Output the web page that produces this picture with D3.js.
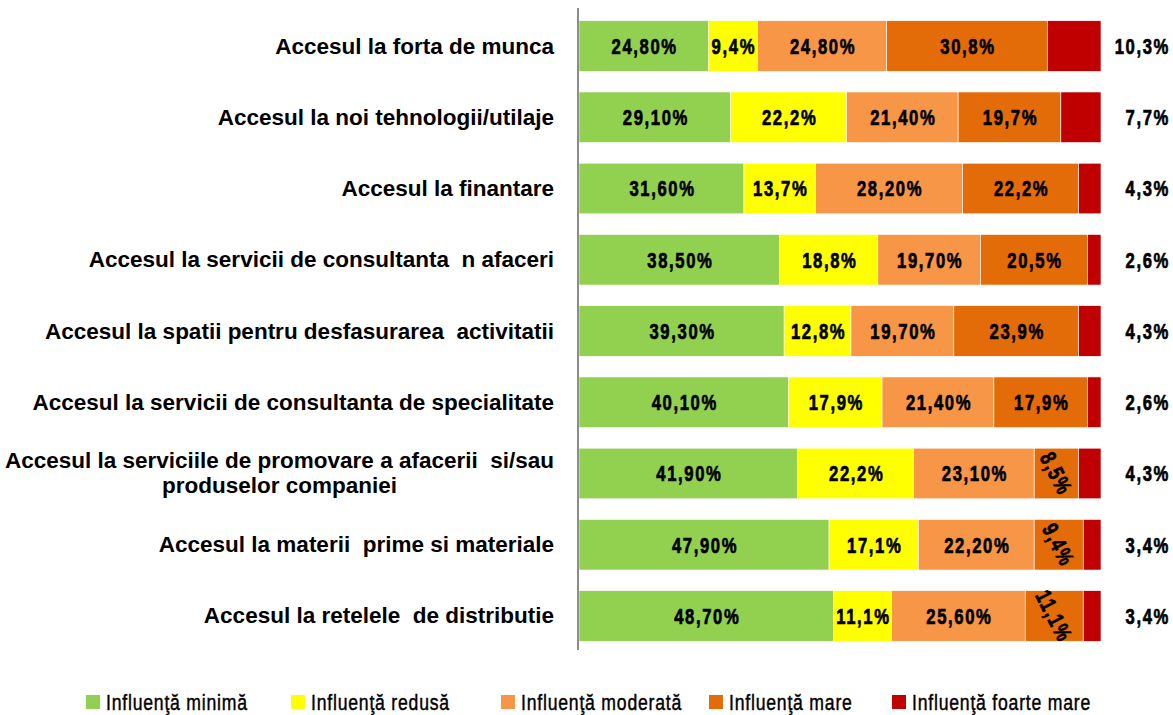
<!DOCTYPE html>
<html>
<head>
<meta charset="utf-8">
<script src="https://cdn.jsdelivr.net/npm/d3@7"></script>
<style>
  body { margin: 0; background: #fff; }
  text { white-space: pre; }
</style>
</head>
<body>
<svg id="chart" width="1173" height="715"></svg>
<script>
const categories = [
  "Accesul la forta de munca",
  "Accesul la noi tehnologii/utilaje",
  "Accesul la finantare",
  "Accesul la servicii de consultanta  n afaceri",
  "Accesul la spatii pentru desfasurarea  activitatii",
  "Accesul la servicii de consultanta de specialitate",
  "Accesul la serviciile de promovare a afacerii  si/sau produselor companiei",
  "Accesul la materii  prime si materiale",
  "Accesul la retelele  de distributie"
];
const seriesNames = ["Influenţă minimă", "Influenţă redusă", "Influenţă moderată", "Influenţă mare", "Influenţă foarte mare"];
const minima   = [24.8, 29.1, 31.6, 38.5, 39.3, 40.1, 41.9, 47.9, 48.7];
const redusa   = [9.4, 22.2, 13.7, 18.8, 12.8, 17.9, 22.2, 17.1, 11.1];
const moderata = [24.8, 21.4, 28.2, 19.7, 19.7, 21.4, 23.1, 22.2, 25.6];
const mare     = [30.8, 19.7, 22.2, 20.5, 23.9, 17.9, 8.5, 9.4, 11.1];
const foarte   = [10.3, 7.7, 4.3, 2.6, 4.3, 2.6, 4.3, 3.4, 3.4];
const decimals = [2, 1, 2, 1, 1];
const colors = ["#92D050", "#FFFF00", "#F79646", "#E36C09", "#C00000"];

const seriesValues = [minima, redusa, moderata, mare, foarte];
const rows = categories.map((c, i) => {
  const r = { cat: c };
  seriesNames.forEach((s, j) => r[s] = seriesValues[j][i]);
  return r;
});

const svg = d3.select("#chart");
const x = d3.scaleLinear().domain([0, 1]).range([579, 1101]);
const y = d3.scaleBand().domain(categories).range([10.4, 651.6]).paddingInner(0.29).paddingOuter(0.145);

const stack = d3.stack().keys(seriesNames).offset(d3.stackOffsetExpand);
const stacked = stack(rows);

const fmt = (v, d) => v.toFixed(d).replace(".", ",") + "%";
const valueFont = "'Liberation Sans', Arial, sans-serif";
const squeeze = "scale(0.74,1)";

const layers = svg.append("g").selectAll("g")
  .data(stacked)
  .enter().append("g")
  .attr("fill", (d, i) => colors[i]);

layers.selectAll("rect")
  .data(d => d)
  .enter().append("rect")
  .attr("x", d => x(d[0]))
  .attr("width", d => x(d[1]) - x(d[0]))
  .attr("y", d => y(d.data.cat))
  .attr("height", y.bandwidth())
  .attr("stroke", "#fff")
  .attr("stroke-width", 0.6);

// value labels
stacked.forEach((layer, si) => {
  const g = svg.append("g")
    .attr("font-family", valueFont)
    .attr("font-weight", "bold")
    .attr("font-size", 22.5)
    .attr("letter-spacing", 2.2)
    .attr("fill", "#000")
    .attr("stroke", "#000")
    .attr("stroke-width", 0.7);
  g.selectAll("text")
    .data(layer)
    .enter().append("text")
    .attr("text-anchor", si === 4 ? "end" : "middle")
    .attr("dominant-baseline", "central")
    .attr("transform", d => {
      const cy = y(d.data.cat) + y.bandwidth() / 2;
      if (si === 4) return `translate(1170,${cy}) ${squeeze}`;
      const cx = (x(d[0]) + x(d[1])) / 2;
      const v = d.data[seriesNames[si]];
      if (si === 3 && v < 12) return `translate(${cx},${cy}) rotate(63) ${squeeze}`;
      return `translate(${cx + 1},${cy}) ${squeeze}`;
    })
    .text(d => fmt(d.data[seriesNames[si]], decimals[si]));
});

// axis line
svg.append("line")
  .attr("x1", 578).attr("x2", 578)
  .attr("y1", 8).attr("y2", 650)
  .attr("stroke", "#8c8c8c")
  .attr("stroke-width", 2);

// category labels
const labelG = svg.append("g")
  .attr("font-family", "'Liberation Sans', Arial, sans-serif")
  .attr("font-weight", "bold")
  .attr("font-size", 22.5)
  .attr("fill", "#000");

const labelRight = 554;
categories.forEach(c => {
  const cy = y(c) + y.bandwidth() / 2;
  const t = labelG.append("text")
    .attr("x", labelRight).attr("y", cy)
    .attr("text-anchor", "end")
    .attr("dominant-baseline", "central")
    .text(c);
  if (t.node().getComputedTextLength() > 560) {
    t.remove();
    // wrap into two lines, centered on the block
    const words = c.split(" ");
    let line1 = "", lines = [];
    const probe = labelG.append("text");
    for (let k = 0; k < words.length; k++) {
      const test = line1 === "" ? words[k] : line1 + " " + words[k];
      probe.text(test);
      if (probe.node().getComputedTextLength() > 552) {
        lines.push(line1.replace(/\s+$/, ""));
        lines.push(words.slice(k).join(" "));
        break;
      }
      line1 = test;
    }
    const widths = lines.map(l => { probe.text(l); return probe.node().getComputedTextLength(); });
    probe.remove();
    const maxW = d3.max(widths);
    const cx = labelRight - maxW / 2;
    lines.forEach((l, k) => {
      labelG.append("text")
        .attr("x", cx)
        .attr("y", cy + (k - (lines.length - 1) / 2) * 25)
        .attr("text-anchor", "middle")
        .attr("dominant-baseline", "central")
        .text(l);
    });
  }
});

// legend
const legendX = [86, 291, 501, 709, 892];
const legend = svg.append("g")
  .attr("font-family", valueFont)
  .attr("font-size", 22)
  .attr("letter-spacing", 1)
  .attr("fill", "#000")
  .attr("stroke", "#000")
  .attr("stroke-width", 0.45);
seriesNames.forEach((s, i) => {
  legend.append("rect")
    .attr("x", legendX[i]).attr("y", 695)
    .attr("width", 14).attr("height", 14)
    .attr("stroke", "none")
    .attr("fill", colors[i]);
  legend.append("text")
    .attr("transform", `translate(${legendX[i] + 20},${702}) scale(0.8,1)`)
    .attr("dominant-baseline", "central")
    .text(s);
});
</script>
</body>
</html>
